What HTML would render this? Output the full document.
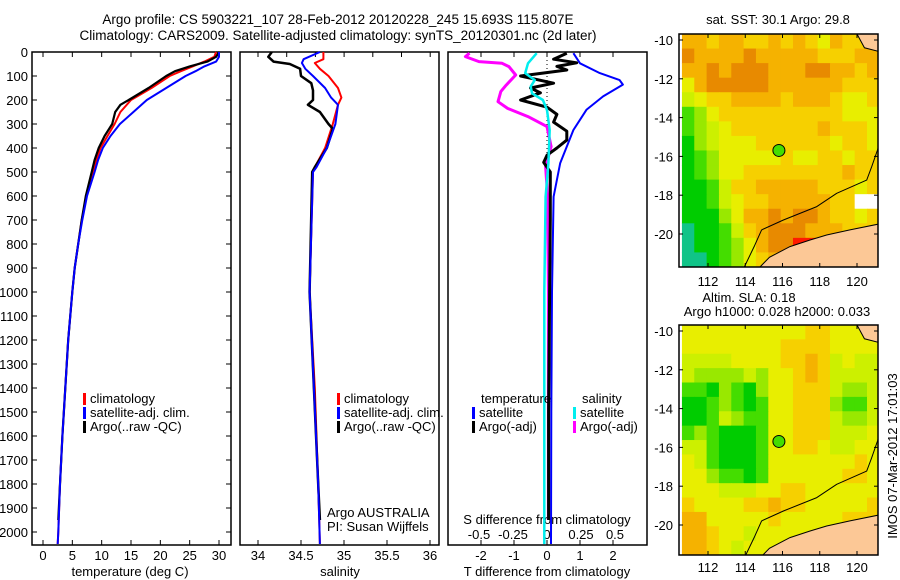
<!DOCTYPE html>
<html><head><meta charset="utf-8"><style>
html,body{margin:0;padding:0;background:#fff;width:900px;height:580px;overflow:hidden}
svg{display:block;font-family:"Liberation Sans",sans-serif}
text{font-size:13px;fill:#000}
</style></head><body>
<svg id="fig" width="900" height="580" viewBox="0 0 900 580" xmlns="http://www.w3.org/2000/svg">
<text x="338" y="24" text-anchor="middle" style="font-size:13.5px">Argo profile: CS 5903221_107 28-Feb-2012 20120228_245 15.693S 115.807E</text>
<text x="338" y="40" text-anchor="middle" style="font-size:13.5px">Climatology: CARS2009. Satellite-adjusted climatology: synTS_20120301.nc (2d later)</text>
<g id="g1"></g>
<g id="g2"></g>
<g id="g3"></g>
<g id="m1"></g>
<g id="m2"></g>
<text transform="translate(897,456) rotate(-90)" text-anchor="middle">IMOS 07-Mar-2012 17:01:03</text>
</svg>
<script>
// ---- data ----
const tDepth=[0,20,40,60,80,100,150,200,250,300,350,400,450,500,600,700,800,900,1000,1200,1400,1600,1800,2000,2050];
const tClim=[29.5,29.2,27.5,25.5,23.5,21.6,18.5,15.0,13.2,12.2,11.0,9.8,9.1,8.5,7.4,6.6,6.0,5.4,5.0,4.3,3.8,3.3,2.9,2.6,2.5];
const tSat=[30,30,29.5,27.5,26,24.3,21,17.7,15.4,13.1,11.5,10.2,9.4,8.8,7.5,6.7,6.0,5.4,5.0,4.3,3.8,3.3,2.9,2.6,2.5];
const tArgoDepth=[0,20,40,60,80,100,150,200,220,250,300,350,400,450,500,600,700,800,900,1000,1200,1400,1600,1800,1950];
const tArgo=[30,29.5,28,25,22.5,21,18,14.6,13.2,12.3,11.8,10.5,9.5,8.8,8.3,7.3,6.6,6.0,5.4,5.0,4.3,3.8,3.3,2.9,2.6];
const sDepth=[0,30,46,70,100,150,190,220,300,400,480,500,1000,1400,1800,2050];
const sClim=[34.76,34.76,34.66,34.72,34.82,34.93,34.97,34.93,34.87,34.78,34.66,34.64,34.6,34.66,34.7,34.72];
const sSat=[34.72,34.53,34.51,34.55,34.64,34.78,34.85,34.93,34.9,34.8,34.68,34.64,34.6,34.65,34.7,34.72];
const sArgoDepth=[0,20,40,50,70,100,130,160,200,220,250,300,320,400,480,500,1000,1400,1800,1950];
const sArgo=[34.16,34.12,34.18,34.37,34.49,34.5,34.62,34.64,34.64,34.58,34.72,34.82,34.87,34.8,34.66,34.63,34.6,34.65,34.7,34.72];
const dDepthT=[5,47,88,117,136,185,240,325,463,603,1000,1500,2050];
const dTSat=[0.8,1.0,1.6,2.2,2.3,1.7,1.2,0.8,0.4,0.2,0.15,0.13,0.12];
const dDepthTA=[5,30,45,60,75,100,130,150,170,200,230,260,292,330,367,400,430,460,500,700,1000,1500,1950];
const dTArgo=[0.6,0.2,0.9,0.3,0.6,-0.8,0.2,-0.5,-0.2,-0.8,0.0,0.3,0.2,0.6,0.6,0.3,0.0,-0.1,0.1,0.1,0.08,0.05,0.05];
const dDepthS=[5,47,88,117,144,172,200,242,325,464,603,1000,1500,2050];
const dSSat=[-0.076,-0.14,-0.16,-0.09,-0.12,-0.11,-0.03,0,0.02,0.01,-0.01,-0.02,-0.02,-0.02];
const dDepthSA=[5,19,40,47,61,96,138,165,207,235,269,311,394,478,603,1000,1500,1950];
const dSArgo=[-0.57,-0.6,-0.5,-0.33,-0.28,-0.23,-0.3,-0.34,-0.36,-0.29,-0.14,0,0.03,-0.01,0.005,0.01,0.01,0.01];
const depthTicks=[0,100,200,300,400,500,600,700,800,900,1000,1100,1200,1300,1400,1500,1600,1700,1800,1900,2000];
const tempTicks=[0,5,10,15,20,25,30];
const salTicks=[34,34.5,35,35.5,36];
const dtTicks=[-2,-1,0,1,2];
const dsTicks=[-0.5,-0.25,0,0.25,0.5];
const lonTicks=[112,114,116,118,120];
const latTicks=[-10,-12,-14,-16,-18,-20];
const argoLon=115.807, argoLat=-15.693;
const sstGrid=["7767766767657666","8777787777766677","7787888777887767","5788888777777666","4566777767776556","2356666666666555","2345666666676665","1345556666665665","1235555565566566","1235566666666766","1124667777766656","11245667777766xx","1113577878876656","0112467888777666","0112357889987777","0012356778888777"];
const slaGrid=["5555555555665555","5555555566665555","4444555566764544","4333343556764444","2213213556664334","1123212556663224","1124322556664334","2321112556664445","4421112556654455","5421112555555565","5532212555555665","5554445566555555","6555566766555556","7755555655555666","7765545555556667","7765455555556666"];
const landLon=[114.79,115.3,116.4,117.48,118.37,119.62,121.2,121.2,114.79];
const landLat=[-21.7,-21.2,-20.65,-20.31,-20.05,-19.79,-19.48,-21.7,-21.7];
const isoLon=[113.95,114.5,114.88,116.05,117.84,118.91,120.52,120.79,121.1,121.2];
const isoLat=[-21.7,-20.6,-19.79,-19.28,-18.59,-17.9,-17.22,-16.53,-15.67,-15.3];
const nLandLon=[120.0,120.4,121.2,121.2,120.0];
const nLandLat=[-9.69,-10.4,-10.6,-9.69,-9.69];

// ---- scales ----
const NS="http://www.w3.org/2000/svg";
const dY=d=>52+d*0.24;
const tX=t=>43+t*5.867;
const sX=s=>258+(s-34)*86;
const dtX=v=>547+v*33;
const dsX=v=>547+v*136;
const lonX=l=>708+(l-112)*18.625;
const latY1=l=>40+(-10-l)*19.4;
const latY2=l=>331+(-10-l)*19.4;
const colors=["#10c488","#00cc00","#44dd00","#99e800","#ccf000","#e8ee00","#f6d000","#f5b200","#e88a00","#ff1a00"];

function mk(tag,attrs,parent){const e=document.createElementNS(NS,tag);for(const k in attrs)e.setAttribute(k,attrs[k]);parent.appendChild(e);return e;}
function txt(s,x,y,anchor,parent){const e=mk('text',{x:x,y:y,'text-anchor':anchor},parent);e.textContent=s;return e;}
function line(xs,ys,xf,yf,color,w,parent){const p=xs.map((v,i)=>xf(v).toFixed(1)+','+yf(ys[i]).toFixed(1)).join(' ');return mk('polyline',{points:p,fill:'none',stroke:color,'stroke-width':w,'stroke-linejoin':'round'},parent);}

const g1=document.getElementById('g1'),g2=document.getElementById('g2'),g3=document.getElementById('g3');
function frame(x0,x1,g){
  const r=mk('rect',{x:x0,y:52,width:x1-x0,height:493,fill:'none',stroke:'#000','stroke-width':1.5},g);
  
  
}
frame(32,231,g1);frame(240,439,g2);frame(448,647,g3);

depthTicks.forEach(d=>{
  const t=txt(String(d),28,dY(d)+5,'end',g1);
  
  
  mk('line',{x1:32,x2:37,y1:dY(d),y2:dY(d),stroke:'#000'},g1);
  mk('line',{x1:226,x2:231,y1:dY(d),y2:dY(d),stroke:'#000'},g1);
});
tempTicks.forEach(v=>{
  const t=txt(String(v),tX(v),560,'middle',g1);
  
  
  mk('line',{x1:tX(v),x2:tX(v),y1:52,y2:57,stroke:'#000'},g1);
  mk('line',{x1:tX(v),x2:tX(v),y1:540,y2:545,stroke:'#000'},g1);
});
let lab=txt('temperature (deg C)',130,576,'middle',g1);


salTicks.forEach(v=>{
  const t=txt(String(v),sX(v),560,'middle',g2);
  
  
  mk('line',{x1:sX(v),x2:sX(v),y1:540,y2:545,stroke:'#000'},g2);
});
for(let x=258;x<439;x+=28.7){mk('line',{x1:x,x2:x,y1:52,y2:57,stroke:'#000'},g2);}
lab=txt('salinity',340,576,'middle',g2);


dtTicks.forEach(v=>{
  const t=txt(String(v),dtX(v),560,'middle',g3);
  
  
  mk('line',{x1:dtX(v),x2:dtX(v),y1:540,y2:545,stroke:'#000'},g3);
  mk('line',{x1:dtX(v),x2:dtX(v),y1:52,y2:57,stroke:'#000'},g3);
});
dsTicks.forEach(v=>{
  const t=txt(String(v),dsX(v),539,'middle',g3);
  
  
});
lab=txt('T difference from climatology',547,576,'middle',g3);


lab=txt('S difference from climatology',547,524,'middle',g3);


mk('line',{x1:547,x2:547,y1:52,y2:dY(450),stroke:'#000','stroke-dasharray':'1,3'},g3);

let s;
s=line(tClim,tDepth,tX,dY,'#ff0000',2,g1);
s=line(tArgo,tArgoDepth,tX,dY,'#000',2.2,g1);
s=line(tSat,tDepth,tX,dY,'#0000ff',2,g1);
s=line(sClim,sDepth,sX,dY,'#ff0000',2,g2);
s=line(sArgo,sArgoDepth,sX,dY,'#000',2.5,g2);
s=line(sSat,sDepth,sX,dY,'#0000ff',2,g2);
s=line(dTSat,dDepthT,dtX,dY,'#0000ff',2,g3);
s=line(dSArgo,dDepthSA,dsX,dY,'#ff00ff',3,g3);
s=line(dTArgo,dDepthTA,dtX,dY,'#000',3,g3);
s=line(dSSat,dDepthS,dsX,dY,'#00eeee',2.5,g3);

function legend(x,y,items,g){
  items.forEach((it,i)=>{
    mk('rect',{x:x,y:y+i*14-10,width:3,height:12,fill:it[1]},g);
    const t=txt(it[0],x+7,y+i*14,'start',g);
    
    
  });
}
legend(83,403,[['climatology','#ff0000'],['satellite-adj. clim.','#0000ff'],['Argo(..raw -QC)','#000']],g1);
legend(337,403,[['climatology','#ff0000'],['satellite-adj. clim.','#0000ff'],['Argo(..raw -QC)','#000']],g2);
lab=txt('temperature',481,403,'start',g3);
lab=txt('salinity',582,403,'start',g3);
legend(472,417,[['satellite','#0000ff'],['Argo(-adj)','#000']],g3);
legend(573,417,[['satellite','#00eeee'],['Argo(-adj)','#ff00ff']],g3);
lab=txt('Argo AUSTRALIA',327,517,'start',g2);
lab=txt('PI: Susan Wijffels',327,531,'start',g2);

function drawMap(g,grid,latY,y0,y1,latTop,latBot,ticky){
  const lon0=110.6,lon1=121.2;
  const clip=mk('clipPath',{id:'c'+g.id},g);
  mk('rect',{x:679,y:y0,width:199,height:y1-y0},clip);
  const cg=mk('g',{'clip-path':'url(#c'+g.id+')'},g);
  const nr=grid.length,nc=grid[0].length;
  const dlon=(lon1-lon0)/nc,dlat=(latTop-latBot)/nr;
  grid.forEach((row,r)=>{
    for(let c=0;c<nc;c++){
      const ch=row[c];
      const xa=lonX(lon0+c*dlon),xb=lonX(lon0+(c+1)*dlon);
      const ya=latY(latTop-r*dlat),yb=latY(latTop-(r+1)*dlat);
      const cell=mk('rect',{x:xa,y:ya,width:xb-xa+0.5,height:yb-ya+0.5,fill:ch==='x'?'#fff':colors[+ch]},cg);
      
      
    }
  });
  const land=mk('polygon',{points:landLon.map((l,i)=>lonX(l)+','+latY(landLat[i])).join(' '),fill:'#fcc896',stroke:'#000','stroke-width':1},cg);
  
  
  const nl=mk('polygon',{points:nLandLon.map((l,i)=>lonX(l)+','+latY(nLandLat[i])).join(' '),fill:'#fcc896',stroke:'#000','stroke-width':1},cg);
  
  
  const iso=line(isoLon,isoLat,lonX,latY,'#000',1,cg);
  
  
  const m=mk('circle',{cx:lonX(argoLon),cy:latY(argoLat),r:6,fill:'#44dd00',stroke:'#000','stroke-width':1},g);
  
  
  const fr=mk('rect',{x:679,y:y0,width:199,height:y1-y0,fill:'none',stroke:'#000','stroke-width':1.5},g);
  
  
  lonTicks.forEach(l=>{
    const t=txt(String(l),lonX(l),ticky,'middle',g);
    
    
    mk('line',{x1:lonX(l),x2:lonX(l),y1:y0,y2:y0+4,stroke:'#000'},g);
    mk('line',{x1:lonX(l),x2:lonX(l),y1:y1-4,y2:y1,stroke:'#000'},g);
  });
  latTicks.forEach(l=>{
    const t=txt(String(l),673,latY(l)+5,'end',g);
    
    
    mk('line',{x1:679,x2:683,y1:latY(l),y2:latY(l),stroke:'#000'},g);
    mk('line',{x1:874,x2:878,y1:latY(l),y2:latY(l),stroke:'#000'},g);
  });
}
const m1=document.getElementById('m1'),m2=document.getElementById('m2');
drawMap(m1,sstGrid,latY1,34,267,-9.69,-21.7,286);
drawMap(m2,slaGrid,latY2,325,555,-9.69,-21.55,572);
lab=txt('sat. SST: 30.1 Argo: 29.8',778,24,'middle',m1);
lab=txt('Altim. SLA: 0.18',749,302,'middle',m2);
lab=txt('Argo h1000: 0.028 h2000: 0.033',777,316,'middle',m2);
</script>
</body></html>
